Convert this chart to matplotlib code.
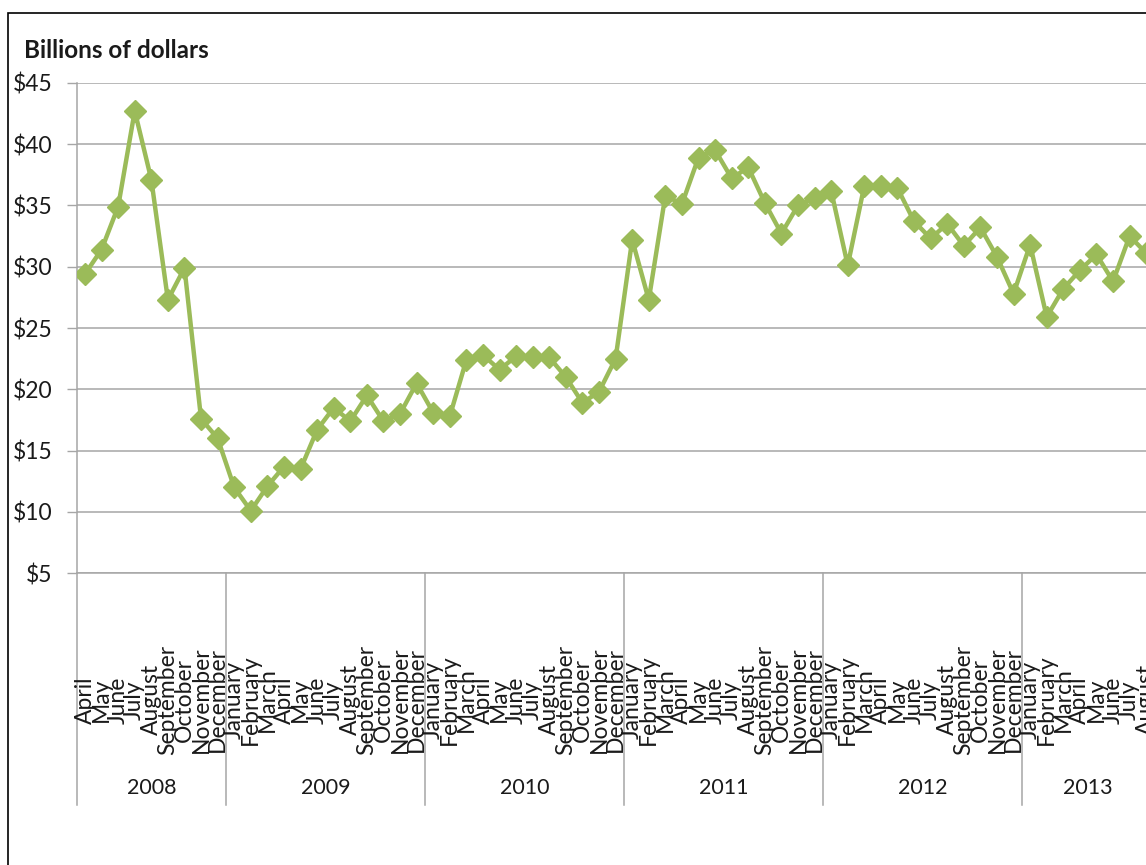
import numpy as np
import matplotlib
matplotlib.use("Agg")
import matplotlib.pyplot as plt
from matplotlib.patches import Rectangle

plt.rcParams['font.family'] = ['Lato', 'DejaVu Sans']

# ---- data (billions of dollars, monthly, Apr 2008 - Aug 2013) ----
MONTHS = ["January", "February", "March", "April", "May", "June", "July",
          "August", "September", "October", "November", "December"]
years = ["2008", "2009", "2010", "2011", "2012", "2013"]
year_months = [MONTHS[3:], MONTHS, MONTHS, MONTHS, MONTHS, MONTHS[:8]]

v2008 = [29.4, 31.4, 34.9, 42.7, 37.1, 27.3, 29.9, 17.6, 16.0]
v2009 = [12.0, 10.1, 12.1, 13.7, 13.5, 16.7, 18.5, 17.4, 19.5, 17.4, 18.0, 20.5]
v2010 = [18.1, 17.8, 22.4, 22.8, 21.6, 22.7, 22.6, 22.6, 21.0, 18.9, 19.8, 22.5]
v2011 = [32.2, 27.3, 35.8, 35.1, 38.9, 39.5, 37.2, 38.1, 35.2, 32.7, 35.0, 35.6]
v2012 = [36.2, 30.1, 36.6, 36.6, 36.4, 33.7, 32.3, 33.5, 31.7, 33.2, 30.8, 27.8]
v2013 = [31.8, 25.9, 28.2, 29.7, 31.0, 28.8, 32.5, 31.1]

yticks = [5, 10, 15, 20, 25, 30, 35, 40, 45]

GREEN = "#9BBB59"
GRID = "#A6A6A6"
TXT = "#1a1a1a"

values = v2008 + v2009 + v2010 + v2011 + v2012 + v2013
month_labels = [m for ms in year_months for m in ms]
x = np.arange(len(values))

W, H = 1146, 865
fig = plt.figure(figsize=(W / 100, H / 100), dpi=100)
# plot area runs past the right edge, like the cropped original
ax = fig.add_axes([76.7 / W, 1 - 573.3 / H, (1154.5 - 76.7) / W, 490.6 / H])

ax.plot(x, values, color=GREEN, lw=3.2, marker="D", ms=11, mec=GREEN, mfc=GREEN, zorder=3)

ax.set_xlim(-0.5, len(values) - 0.5)
ax.set_ylim(5, 45)
ax.set_yticks(yticks)
ax.set_yticklabels([f"${t}" for t in yticks], fontsize=16.5, color=TXT)
ax.tick_params(axis="y", length=7.2, width=1, color=GRID, pad=10)
ax.set_xticks([])
ax.grid(axis="y", color=GRID, lw=1.1)
ax.set_axisbelow(True)
for s in ["top", "right"]:
    ax.spines[s].set_visible(False)
for s in ["left", "bottom"]:
    ax.spines[s].set_color(GRID)
    ax.spines[s].set_linewidth(1.1)

# multi-level category axis
trans = ax.get_xaxis_transform()
for i, m in enumerate(month_labels):
    ax.text(i, -0.258, m, rotation=90, ha="center", va="center",
            fontsize=16.5, color=TXT, transform=trans, clip_on=False)

start = -0.5
for yr, ms in zip(years, year_months):
    ax.plot([start, start], [0, -0.472], color=GRID, lw=1.1, transform=trans, clip_on=False)
    ax.text(start + len(ms) / 2, -0.4376, yr, ha="center", va="center",
            fontsize=15.5, color=TXT, transform=trans, clip_on=False)
    start += len(ms)
ax.plot([start, start], [0, -0.472], color=GRID, lw=1.1, transform=trans, clip_on=False)

fig.text(24 / W, 1 - 50 / H, "Billions of dollars", fontsize=17.5, fontweight="bold",
         ha="left", va="center", color=TXT)

# outer chart border
fig.add_artist(Rectangle((8 / W, -0.1), 1.2, 1.1 - 13 / H, transform=fig.transFigure,
                         fill=False, edgecolor="black", lw=1.2))

fig.savefig("out.png", dpi=100)
